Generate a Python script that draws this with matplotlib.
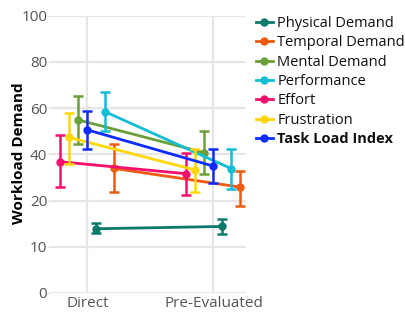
import numpy as np
import matplotlib
matplotlib.use('Agg')
import matplotlib.pyplot as plt

plt.rcParams['font.family'] = ['Open Sans', 'DejaVu Sans']

# conditions on the x axis
conditions = ['Direct', 'Pre-Evaluated']

# series names, colours and their dodge offset
names = ['Physical Demand', 'Temporal Demand', 'Mental Demand', 'Performance',
         'Effort', 'Frustration', 'Task Load Index']
colors = ['#0b7a6b', '#ee5a12', '#6a9f3a', '#14bcd6', '#f50f6d', '#ffd60a', '#0f2cff']
offsets = [1, 3, -1, 2, -3, -2, 0]

# mean values (Direct, Pre-Evaluated)
physical = [13.9, 14.4]
temporal = [33.9, 25.8]
mental = [54.9, 40.7]
performance = [58.4, 33.8]
effort = [36.8, 31.6]
frustration = [47.3, 33.2]
tli = [50.6, 34.9]

# upper / lower ends of the error bars
physical_hi = [15.1, 16.0]
physical_lo = [13.0, 12.8]
temporal_hi = [44.3, 32.7]
temporal_lo = [23.6, 18.9]
mental_hi = [65.1, 50.1]
mental_lo = [44.3, 31.6]
performance_hi = [67.0, 42.5]
performance_lo = [50.3, 25.1]
effort_hi = [48.3, 40.7]
effort_lo = [25.8, 22.6]
frustration_hi = [58.1, 42.5]
frustration_lo = [35.7, 23.6]
tli_hi = [58.8, 42.2]
tli_lo = [42.2, 27.7]

means = [physical, temporal, mental, performance, effort, frustration, tli]
highs = [physical_hi, temporal_hi, mental_hi, performance_hi, effort_hi, frustration_hi, tli_hi]
lows = [physical_lo, temporal_lo, mental_lo, performance_lo, effort_lo, frustration_lo, tli_lo]

# y tick values, spaced evenly on the axis
yticks = [0, 10, 20, 40, 60, 80, 100]
ypos = np.arange(len(yticks))


def fwd(v):
    return np.interp(v, yticks, ypos)


def inv(v):
    return np.interp(v, ypos, yticks)


fig = plt.figure(figsize=(4.06, 3.14), dpi=100)
ax = fig.add_axes([50 / 406, 21 / 314, 196 / 406, 277.3 / 314])
ax.set_yscale('function', functions=(fwd, inv))

step = 0.0713
handles = []
for k in range(len(names)):
    xs = np.arange(len(conditions)) + offsets[k] * step
    m = np.array(means[k])
    err = [m - np.array(lows[k]), np.array(highs[k]) - m]
    ax.errorbar(xs, m, yerr=err, fmt='none', ecolor=colors[k], elinewidth=1.8,
                capsize=3.5, capthick=1.8, zorder=3 + k)
    ln, = ax.plot(xs, m, color=colors[k], lw=2, marker='o', markersize=5,
                  zorder=3 + k, label=names[k])
    handles.append(ln)

ax.set_xlim(-0.296, 1.258)
ax.set_ylim(0, 100)
ax.set_xticks(range(len(conditions)))
ax.set_xticklabels(conditions)
ax.set_yticks(yticks)
ax.set_yticklabels([str(t) for t in yticks])
ax.grid(True, color='#e6e6e6', lw=1.6, zorder=0)
for s in ax.spines.values():
    s.set_visible(False)
ax.tick_params(axis='x', length=0, labelsize=11, labelcolor='#555', pad=2)
ax.tick_params(axis='y', length=2, color='#e0e0e0', labelsize=11, labelcolor='#555', pad=0)

# y title placed by hand so it stays inside the picture
fig.text(19 / 406, 1 - 153 / 314, 'Workload Demand', rotation=90, ha='center', va='center',
         fontsize=11, fontweight='bold', color='black')

leg = fig.legend(handles=handles, loc='upper left', bbox_to_anchor=(256 / 406, 1 - 16 / 314),
                 frameon=False, fontsize=10.5, handlelength=1.15, handletextpad=0.3,
                 labelspacing=0.3, borderpad=0, borderaxespad=0)
for t in leg.get_texts():
    t.set_color('#111')
leg.get_texts()[-1].set_fontweight('bold')

fig.savefig('out.png', dpi=100)
